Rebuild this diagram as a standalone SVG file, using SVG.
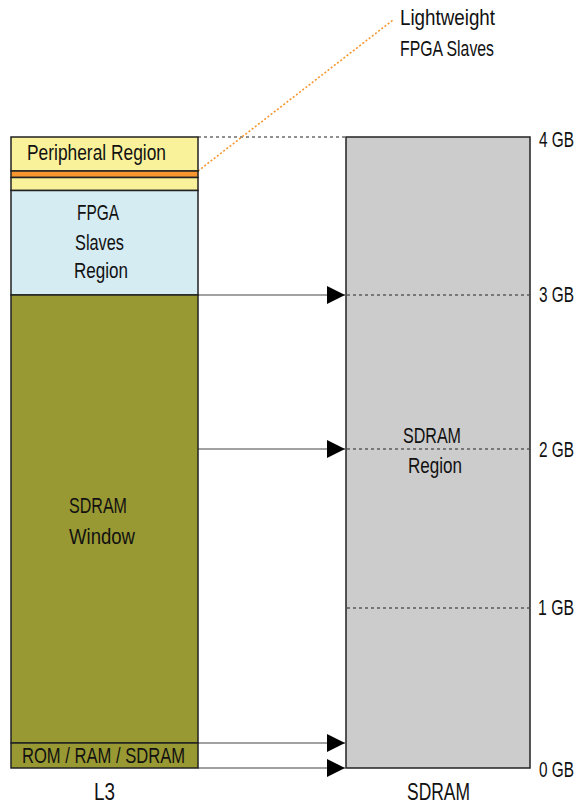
<svg xmlns="http://www.w3.org/2000/svg" width="576" height="806" viewBox="0 0 576 806">
<style>
text{font-family:"Liberation Sans",Arial,sans-serif;font-size:22px;fill:#111}
.c{text-anchor:middle}
.big{font-size:24px}
.box{stroke:#222;stroke-width:1.5}
.conn{stroke:#444;stroke-width:1.2;fill:none}
.dash{stroke:#222;stroke-width:1.2;stroke-dasharray:3 3;fill:none}
</style>
<defs>
<marker id="arr" viewBox="0 0 18 18" refX="18" refY="9" markerWidth="18" markerHeight="18" markerUnits="userSpaceOnUse" orient="auto">
<path d="M0,0 L18,9 L0,18 Z" fill="#000"/>
</marker>
</defs>
<g id="connectors">
<line class="dash" x1="198" y1="137" x2="346" y2="137"/>
<line x1="198" y1="171" x2="393" y2="20" stroke="#f7962f" stroke-width="1.6" stroke-dasharray="2 2"/>
<line class="conn" x1="198" y1="295" x2="345" y2="295" marker-end="url(#arr)"/>
<line class="conn" x1="198" y1="449" x2="345" y2="449" marker-end="url(#arr)"/>
<line class="conn" x1="198" y1="743" x2="345" y2="743" marker-end="url(#arr)"/>
<line class="conn" x1="198" y1="768" x2="345" y2="768" marker-end="url(#arr)"/>
</g>
<g id="sdram">
<rect class="box" x="346" y="137" width="184" height="631" fill="#cccccc"/>
<line class="dash" x1="347" y1="295" x2="529" y2="295"/>
<line class="dash" x1="347" y1="449" x2="529" y2="449"/>
<line class="dash" x1="347" y1="608" x2="529" y2="608"/>
<text class="c" x="432" y="443" textLength="58" lengthAdjust="spacingAndGlyphs">SDRAM</text>
<text class="c" x="435" y="473" textLength="54" lengthAdjust="spacingAndGlyphs">Region</text>
<text class="c big" x="438.5" y="800" textLength="63" lengthAdjust="spacingAndGlyphs">SDRAM</text>
</g>
<g id="peripheral">
<rect class="box" x="11" y="137" width="187" height="34" fill="#faf29b"/>
<text x="27" y="160" textLength="139" lengthAdjust="spacingAndGlyphs">Peripheral Region</text>
</g>
<g id="lightweight">
<rect class="box" x="11" y="171" width="187" height="6.5" fill="#f7962f"/>
<rect class="box" x="11" y="177.5" width="187" height="13" fill="#faf29b"/>
</g>
<g id="fpga">
<rect class="box" x="11" y="190.5" width="187" height="104.5" fill="#d5ecf3"/>
<text class="c" x="98" y="220" textLength="42" lengthAdjust="spacingAndGlyphs">FPGA</text>
<text class="c" x="99.5" y="250" textLength="49" lengthAdjust="spacingAndGlyphs">Slaves</text>
<text class="c" x="101" y="278" textLength="54" lengthAdjust="spacingAndGlyphs">Region</text>
</g>
<g id="window">
<rect class="box" x="11" y="295" width="187" height="448" fill="#999933"/>
<text class="c" x="98" y="513" textLength="58" lengthAdjust="spacingAndGlyphs">SDRAM</text>
<text class="c" x="102" y="544" textLength="66" lengthAdjust="spacingAndGlyphs">Window</text>
</g>
<g id="rom">
<rect class="box" x="11" y="743" width="187" height="25" fill="#999933"/>
<text class="c" x="103.5" y="763" textLength="163" lengthAdjust="spacingAndGlyphs">ROM / RAM / SDRAM</text>
</g>
<g id="labels">
<text x="400" y="25" textLength="95" lengthAdjust="spacingAndGlyphs">Lightweight</text>
<text x="400" y="56" textLength="94" lengthAdjust="spacingAndGlyphs">FPGA Slaves</text>
<text transform="translate(539,147) scale(0.7,1)">4 GB</text>
<text transform="translate(539,302) scale(0.7,1)">3 GB</text>
<text transform="translate(539,457) scale(0.7,1)">2 GB</text>
<text transform="translate(538,615) scale(0.72,1)">1 GB</text>
<text transform="translate(539,777) scale(0.7,1)">0 GB</text>
<text class="c big" x="104.5" y="800" textLength="21" lengthAdjust="spacingAndGlyphs">L3</text>
</g>
</svg>
